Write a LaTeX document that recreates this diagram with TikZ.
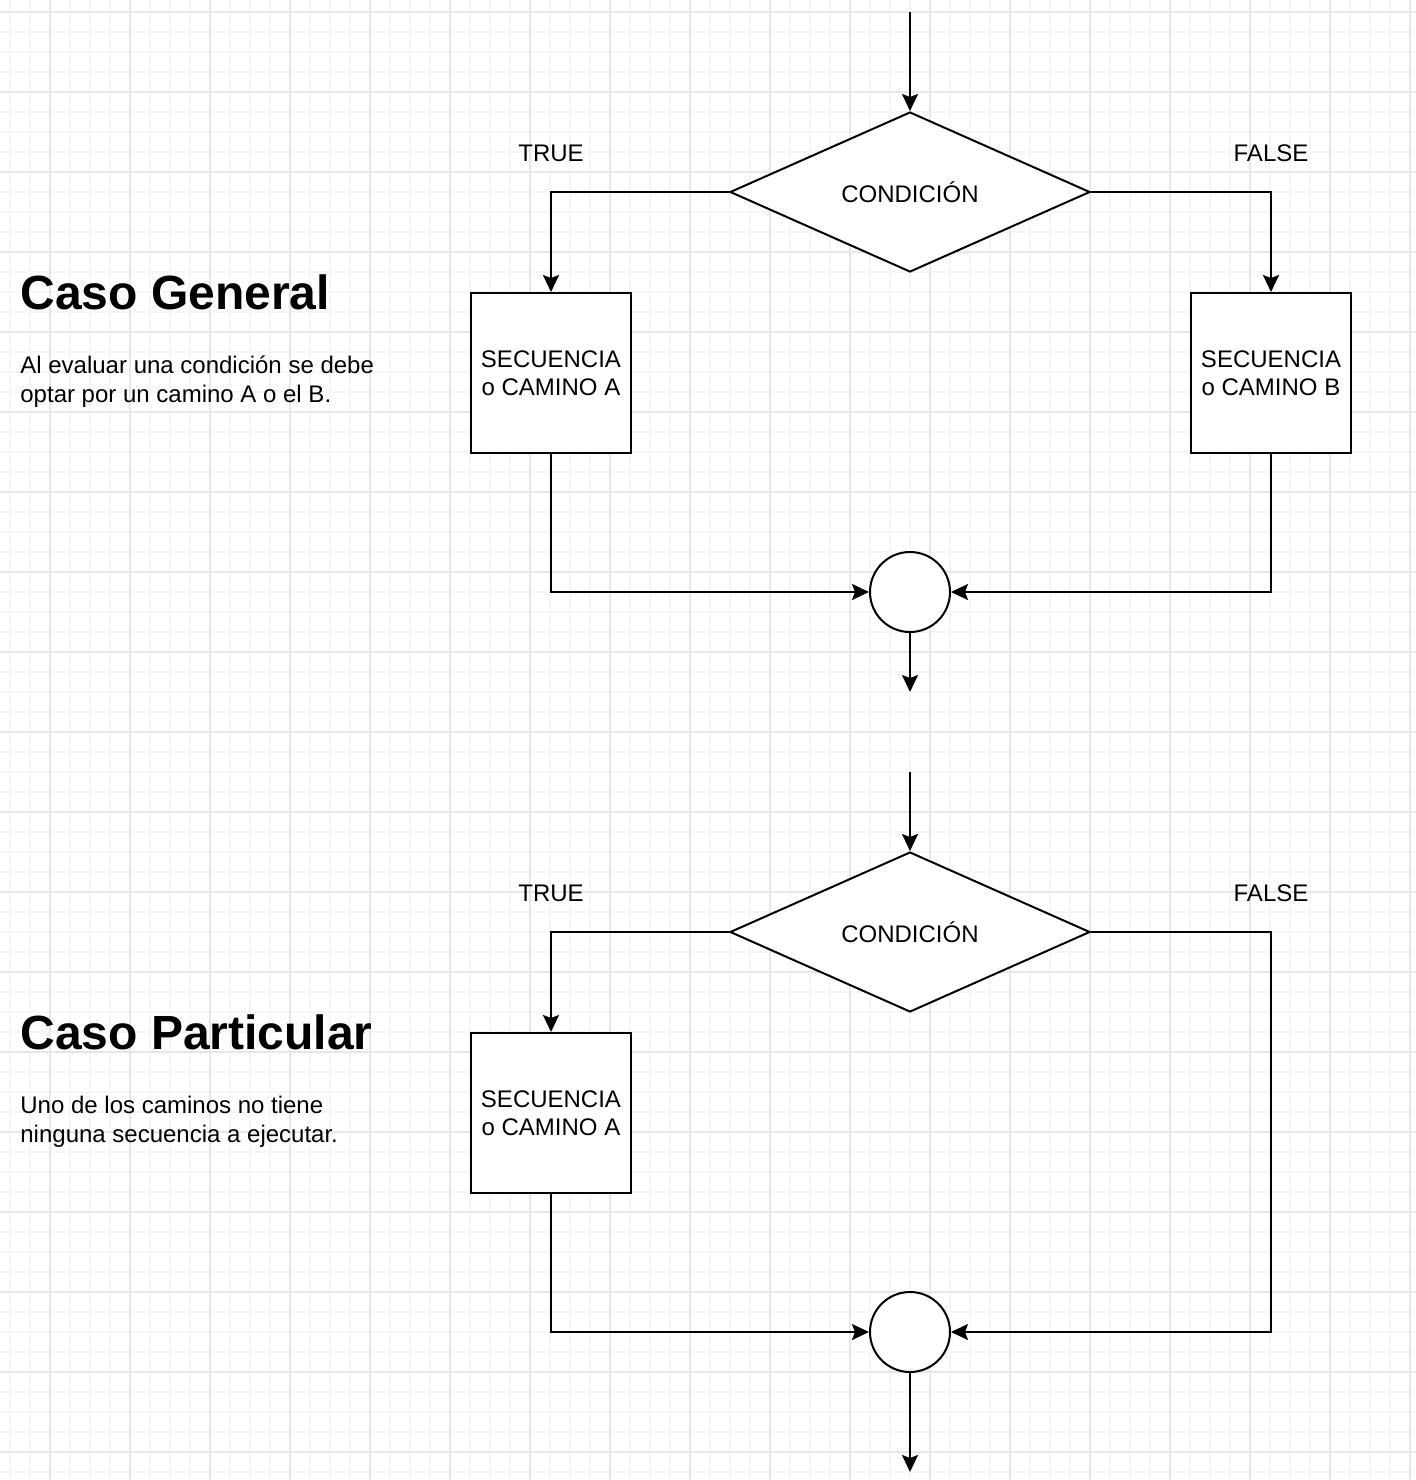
\documentclass[tikz,border=0pt]{standalone}
\usepackage{fontspec}
\setmainfont{Liberation Sans}
\usetikzlibrary{shapes.geometric,arrows.meta}
\definecolor{gridminor}{RGB}{246,246,246}
\definecolor{gridmajor}{RGB}{231,231,231}
\tikzset{
  px/.style={x=0.5pt,y=-0.5pt},
  shapebox/.style={draw=black,fill=white,line width=1pt,rectangle,minimum width=80pt,minimum height=80pt,inner sep=0pt,align=center,font=\fontsize{12}{14}\selectfont},
  condbox/.style={draw=black,fill=white,line width=1pt,diamond,minimum width=180pt,minimum height=80pt,inner sep=0pt,font=\fontsize{12}{14}\selectfont},
  joinbox/.style={draw=black,fill=white,line width=1pt,circle,minimum size=40pt,inner sep=0pt},
  lbl/.style={font=\fontsize{12}{14}\selectfont,inner sep=0pt},
  heading/.style={font=\fontsize{24}{28}\selectfont\bfseries,inner sep=0pt,anchor=base west},
  bodytext/.style={font=\fontsize{12}{14.4}\selectfont,inner sep=0pt,align=left,anchor=base west},
  arr/.style={line width=1pt,-{Stealth[length=8.5pt,width=8pt,inset=1.5pt]}}
}
\begin{document}
\begin{tikzpicture}[px]
\useasboundingbox (0,0) rectangle (1416,1480);
\fill[white] (0,0) rectangle (1416,1480);
% grid
\foreach \gx in {10,30,...,1410} {\draw[gridminor,line width=0.6pt] (\gx,0) -- (\gx,1480);}
\foreach \gy in {12,32,...,1472} {\draw[gridminor,line width=0.6pt] (0,\gy) -- (1416,\gy);}
\foreach \gx in {50,130,...,1410} {\draw[gridmajor,line width=0.6pt] (\gx,0) -- (\gx,1480);}
\foreach \gy in {12,92,...,1472} {\draw[gridmajor,line width=0.6pt] (0,\gy) -- (1416,\gy);}

% ---------- Caso General ----------
\node[heading] (h1) at (20,309) {Caso General};
\node[bodytext] (p1) at (20,402) {Al evaluar una condición se debe\\optar por un camino A o el B.};

\coordinate (t1) at (910,12);
\node[condbox] (d1) at (910,192) {CONDICIÓN};
\node[shapebox] (a1) at (551,373) {SECUENCIA\\o CAMINO A};
\node[shapebox] (b1) at (1271,373) {SECUENCIA\\o CAMINO B};
\node[joinbox] (c1) at (910,592) {};
\coordinate (e1) at (910,692);
\node[lbl] (tr1) at (551,153) {TRUE};
\node[lbl] (fa1) at (1271,153) {FALSE};

\draw[arr] (t1) -- (d1.north);
\draw[arr] (d1.west) -| (a1.north);
\draw[arr] (d1.east) -| (b1.north);
\draw[arr] (a1.south) |- (c1.west);
\draw[arr] (b1.south) |- (c1.east);
\draw[arr] (c1.south) -- (e1);

% ---------- Caso Particular ----------
\node[heading] (h2) at (20,1049) {Caso Particular};
\node[bodytext] (p2) at (20,1142) {Uno de los caminos no tiene\\ninguna secuencia a ejecutar.};

\coordinate (t2) at (910,772);
\node[condbox] (d2) at (910,932) {CONDICIÓN};
\node[shapebox] (a2) at (551,1113) {SECUENCIA\\o CAMINO A};
\node[joinbox] (c2) at (910,1332) {};
\coordinate (e2) at (910,1472);
\coordinate (f2) at (1271,1332);
\node[lbl] (tr2) at (551,893) {TRUE};
\node[lbl] (fa2) at (1271,893) {FALSE};

\draw[arr] (t2) -- (d2.north);
\draw[arr] (d2.west) -| (a2.north);
\draw[arr] (d2.east) -| (f2) -- (c2.east);
\draw[arr] (a2.south) |- (c2.west);
\draw[arr] (c2.south) -- (e2);
\end{tikzpicture}
\end{document}
